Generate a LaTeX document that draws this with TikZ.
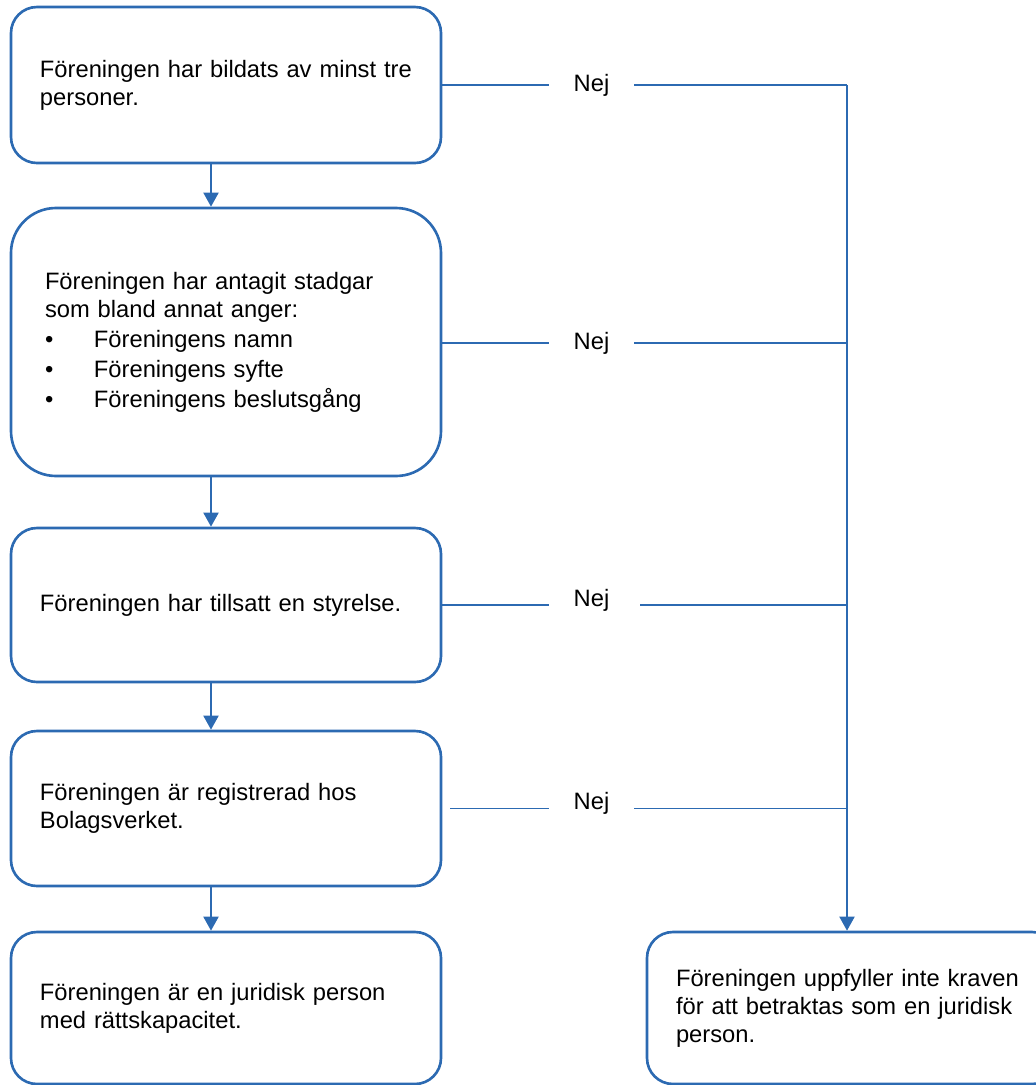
\documentclass[tikz,border=0pt]{standalone}
\usepackage{fontspec}
\setmainfont{Liberation Sans}
\usetikzlibrary{arrows.meta}
\definecolor{ramblue}{RGB}{44,106,178}

\begin{document}
\begin{tikzpicture}[>={Triangle[width=0.3cm,length=0.28cm]},
  font=\fontsize{13.5}{16}\selectfont,
  ruta/.style={draw=ramblue, line width=1.5pt, rounded corners=0.52cm,
    text width=7.44cm, inner xsep=0.58cm, align=left},
  nej/.style={minimum width=1.7cm, inner sep=0pt},
  linje/.style={draw=ramblue, line width=0.9pt},
  pil/.style={draw=ramblue, line width=1.1pt, ->}]
  \useasboundingbox (0,0) rectangle (20.72,-21.7);

  % --- vanster kolumn: kraven ---
  \node[ruta, minimum height=3.12cm] (bildad) at (4.52,-1.70)
    {Föreningen har bildats av minst tre\\personer.};
  \node[ruta, minimum height=5.36cm, rounded corners=0.9cm,
    text width=7.24cm, inner xsep=0.68cm] (stadgar) at (4.52,-6.84)
    {Föreningen har antagit stadgar\\som bland annat anger:\\[1pt]
     \makebox[0.98cm][l]{•}Föreningens namn\\[1pt]
     \makebox[0.98cm][l]{•}Föreningens syfte\\[1pt]
     \makebox[0.98cm][l]{•}Föreningens beslutsgång};
  \node[ruta, minimum height=3.08cm] (styrelse) at (4.52,-12.10)
    {Föreningen har tillsatt en styrelse.};
  \node[ruta, minimum height=3.10cm] (registrerad) at (4.52,-16.17)
    {Föreningen är registrerad hos\\Bolagsverket.};
  \node[ruta, minimum height=3.04cm] (juridisk) at (4.52,-20.16)
    {Föreningen är en juridisk person\\med rättskapacitet.};

  % --- hoger: ej juridisk person ---
  \node[ruta, minimum height=3.04cm, text width=7.06cm] (ejjuridisk) at (17.05,-20.16)
    {Föreningen uppfyller inte kraven\\för att betraktas som en juridisk\\person.};

  \draw[pil] ([xshift=-0.3cm]bildad.south) -- ([xshift=-0.3cm]stadgar.north);
  \draw[pil] ([xshift=-0.3cm]stadgar.south) -- ([xshift=-0.3cm]styrelse.north);
  \draw[pil] ([xshift=-0.3cm]styrelse.south) -- ([xshift=-0.3cm]registrerad.north);
  \draw[pil] ([xshift=-0.3cm]registrerad.south) -- ([xshift=-0.3cm]juridisk.north);

  % --- nej-grenar ---
  \coordinate (skena) at (16.94,-1.70);
  \node[nej] (nej1) at (11.83,-1.70) {Nej};
  \node[nej] (nej2) at (11.83,-6.86) {Nej};
  \node[nej, yshift=0.1cm] (nej3) at (11.83,-12.10) {Nej};
  \node[nej, yshift=0.1cm] (nej4) at (11.83,-16.17) {Nej};

  \draw[linje] (bildad.east) -- (bildad.east -| nej1.west);
  \draw[linje] (bildad.east -| nej1.east) -- (skena);
  \draw[linje] (stadgar.east |- nej2) -- (nej2.west);
  \draw[linje] (nej2.east) -- (nej2 -| skena);
  \draw[linje] (styrelse.east) -- (styrelse.east -| nej3.west);
  \draw[linje] ([xshift=0.12cm]styrelse.east -| nej3.east) -- (styrelse.east -| skena);
  \draw[linje] ([xshift=0.16cm]registrerad.east) -- (registrerad.east -| nej4.west);
  \draw[linje] (registrerad.east -| nej4.east) -- (registrerad.east -| skena);

  \draw[pil] (skena) -- (skena |- ejjuridisk.north);
\end{tikzpicture}
\end{document}
